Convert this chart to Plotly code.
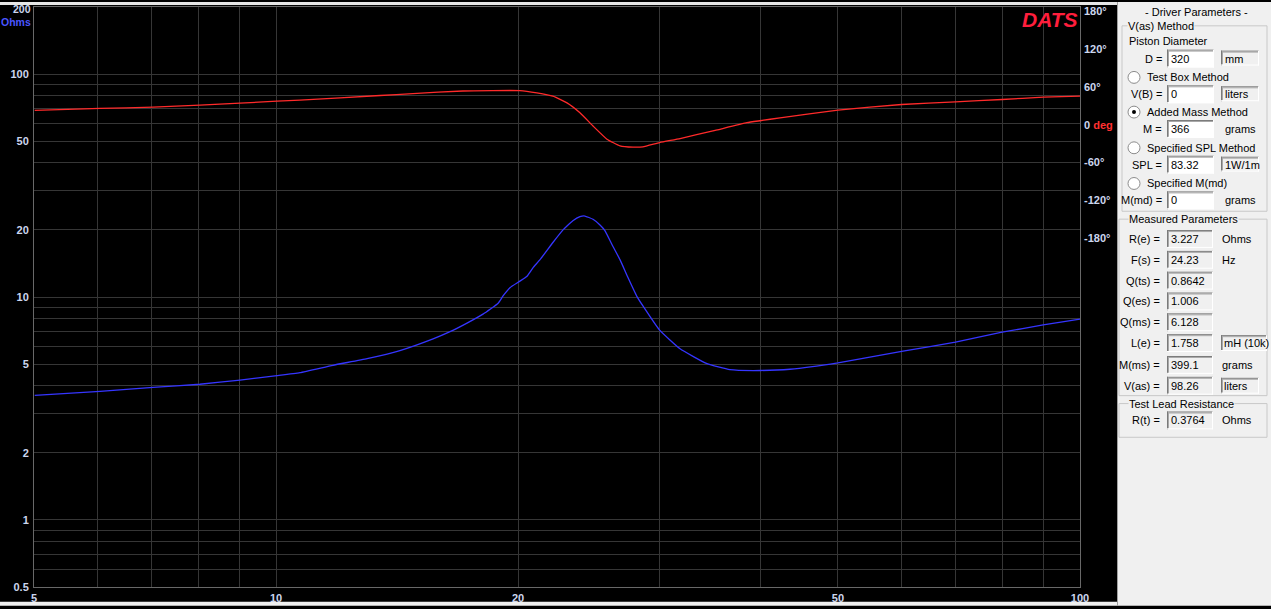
import math
import plotly.graph_objects as go

# ---------------- data ----------------
freq_z = [5.01, 6.04, 7.03, 8.04, 9.02, 10.03, 10.71, 11.77, 12.98, 14.26, 15.68, 16.46,
          17.28, 18.09, 18.89, 19.16, 19.54, 20.11, 20.52, 20.87, 21.30, 22.10, 22.75,
          23.01, 23.40, 23.88, 24.22, 24.79, 25.29, 25.65, 26.25, 26.78, 27.41, 28.12,
          28.60, 30.0, 31.81, 34.36, 36.69, 40.0, 43.58, 50.0, 60.0, 70.0, 80.0, 90.0, 100.0]
impedance = [3.62, 3.77, 3.93, 4.06, 4.24, 4.44, 4.58, 4.94, 5.29, 5.75, 6.49, 6.99,
             7.64, 8.38, 9.38, 10.11, 11.01, 11.78, 12.40, 13.51, 14.71, 17.56, 20.0,
             20.84, 22.0, 22.92, 23.08, 22.32, 21.05, 19.86, 16.85, 14.71, 12.20, 10.04,
             9.12, 7.10, 5.86, 5.02, 4.72, 4.68, 4.74, 5.06, 5.70, 6.27, 6.95, 7.49, 7.96]

freq_p = [5.01, 6.04, 7.03, 8.04, 9.02, 10.03, 10.71, 13.47, 14.80, 17.08, 20.11, 21.11,
          22.10, 23.01, 23.88, 24.79, 25.80, 26.78, 27.80, 28.60, 30.0, 31.81, 34.95,
          38.52, 40.0, 42.35, 50.0, 60.0, 70.0, 80.0, 90.0, 100.0]
phase = [22.8, 25.9, 28.0, 31.1, 34.3, 37.4, 39.0, 46.4, 49.5, 53.6, 54.2, 50.5,
         45.3, 34.7, 19.0, -1.9, -22.8, -33.3, -35.4, -34.9, -28.1, -21.8, -9.7,
         3.3, 6.4, 11.0, 23.3, 32.2, 36.3, 40.1, 43.7, 45.3]

x_grid = [5, 6, 7, 8, 9, 10, 20, 30, 40, 50, 60, 70, 80, 90, 100]
x_labels = ["5", "", "", "", "", "10", "20", "", "", "50", "", "", "", "", "100"]
y_grid = [0.5, 0.6, 0.7, 0.8, 0.9, 1, 2, 3, 4, 5, 6, 7, 8, 9, 10, 20, 30, 40, 50,
          60, 70, 80, 90, 100, 200]
y_labels = ["0.5", "", "", "", "", "1", "2", "", "", "5", "", "", "", "", "10", "20",
            "", "", "50", "", "", "", "", "100", ""]
phase_ticks = [180, 120, 60, 0, -60, -120, -180]
phase_labels = ["180°", "120°", "60°", "0 <span style='color:#ff3030'>deg</span>",
                "-60°", "-120°", "-180°"]

# driver-parameter panel contents
vas_rows = [("D =", "320", "mm", True), ("V(B) =", "0", "liters", True),
            ("M =", "366", "grams", False), ("SPL =", "83.32", "1W/1m", True),
            ("M(md) =", "0", "grams", False)]
method_labels = ["Test Box Method", "Added Mass Method", "Specified SPL Method",
                 "Specified M(md)"]
selected_method = 1
measured_labels = ["R(e) =", "F(s) =", "Q(ts) =", "Q(es) =", "Q(ms) =", "L(e) =",
                   "M(ms) =", "V(as) ="]
measured_values = ["3.227", "24.23", "0.8642", "1.006", "6.128", "1.758", "399.1", "98.26"]
measured_units = ["Ohms", "Hz", "", "", "", "mH (10k)", "grams", "liters"]
measured_unit_box = [False, False, False, False, False, True, False, True]

# ---------------- layout geometry (pixels) ----------------
W, H = 1271, 609
L, R, T, B = 34, 1080, 5, 590

def px(x):
    return (x - L) / (R - L)

def py(y):
    return (B - y) / (B - T)

# phase axis mapping: 180 deg at y=9.3, -180 deg at y=238.3
deg_px = (238.3 - 9.3) / 360.0
zero_y = 9.3 + 180 * deg_px
p_top = (zero_y - T) / deg_px
p_bot = (zero_y - B) / deg_px

AXIS_FONT = "Liberation Sans, Arial, sans-serif"
PANEL_FONT = "Liberation Sans, Arial, sans-serif"
LABEL_COLOR = "#ccd6ee"
GRID = "#363636"

fig = go.Figure()
fig.add_trace(go.Scatter(x=freq_z, y=impedance, mode="lines",
                         line=dict(color="#3535ff", width=1.3, shape="spline", smoothing=0.4),
                         hoverinfo="skip"))
fig.add_trace(go.Scatter(x=freq_p, y=phase, mode="lines", yaxis="y2",
                         line=dict(color="#ff2a2a", width=1.3, shape="spline", smoothing=0.4),
                         hoverinfo="skip"))

shapes = []
annotations = []

def rect(x0, y0, x1, y1, fill=None, line=None, lw=1, layer="above"):
    d = dict(type="rect", xref="paper", yref="paper", x0=px(x0), x1=px(x1),
             y0=py(y1), y1=py(y0), layer=layer)
    d["fillcolor"] = fill if fill else "rgba(0,0,0,0)"
    d["line"] = dict(color=line, width=lw) if line else dict(width=0)
    shapes.append(d)

def seg(x0, y0, x1, y1, color, lw=1):
    shapes.append(dict(type="line", xref="paper", yref="paper", x0=px(x0), x1=px(x1),
                       y0=py(y0), y1=py(y1), line=dict(color=color, width=lw)))

def circle(cx, cy, r, fill, line=None):
    shapes.append(dict(type="circle", xref="paper", yref="paper",
                       x0=px(cx - r), x1=px(cx + r), y0=py(cy + r), y1=py(cy - r),
                       fillcolor=fill,
                       line=dict(color=line, width=1) if line else dict(width=0)))

def text(x, y, s, anchor="left", color="#000000", size=11, family=PANEL_FONT,
         bg=None, weight="normal"):
    a = dict(xref="paper", yref="paper", x=px(x), y=py(y), text=s, showarrow=False,
             xanchor=anchor, yanchor="middle",
             font=dict(family=family, size=size, color=color, weight=weight),
             borderpad=0)
    if bg:
        a["bgcolor"] = bg
    annotations.append(a)

def sunken(x0, y0, x1, y1, fill):
    rect(x0, y0, x1, y1, fill=fill)
    seg(x0, y0 + 0.5, x1, y0 + 0.5, "#7a7a7a", 1)
    seg(x0 + 0.5, y0, x0 + 0.5, y1, "#7a7a7a", 1)
    seg(x0 + 1, y0 + 1.5, x1 - 1, y0 + 1.5, "#a8a8a8", 1)
    seg(x0 + 1.5, y0 + 1, x0 + 1.5, y1 - 1, "#a8a8a8", 1)
    seg(x0, y1 - 0.5, x1, y1 - 0.5, "#ffffff", 1)
    seg(x1 - 0.5, y0, x1 - 0.5, y1, "#ffffff", 1)

# window strips / panel background
rect(0, 0, 1118, 3, fill="#e6e6e6", layer="below")
rect(0, 605, 1118, H, fill="#f0f0f0", layer="below")
rect(1118, 0, W, H, fill="#f0f0f0", layer="below")
seg(1117.5, 0, 1117.5, H, "#a0a0a0", 1)

# left axis top labels
text(32, 7.5, "200", anchor="right", color=LABEL_COLOR, size=10.5, family=AXIS_FONT, weight="bold")
text(32, 20, "Ohms", anchor="right", color="#4a55ff", size=10.5, family=AXIS_FONT, weight="bold")
# logo
text(1079, 17.5, "<i>DATS</i>", anchor="right", color="#ff1e3c", size=21,
     family="Liberation Sans, Arial", weight="bold")

# ---- panel ----
text(1196, 10, "- Driver Parameters -", anchor="center")

# group 1
rect(1122, 24, 1267, 211, line="#c8c8c8")
text(1127, 24, "V(as) Method", bg="#f0f0f0")
text(1128, 39, "Piston Diameter")
row_y = [57, 93, 128, 164, 200]
radio_y = [76, 111, 147, 183]
for i, (lab, val, unit, boxed) in enumerate(vas_rows):
    y = row_y[i]
    text(1163, y, lab, anchor="right")
    sunken(1167, y - 9, 1214, y + 9, "#ffffff")
    text(1170, y, val)
    if boxed:
        sunken(1221, y - 8, 1259, y + 7, "#f0f0f0")
        text(1224, y, unit)
    else:
        text(1224, y, unit)
for i, lab in enumerate(method_labels):
    y = radio_y[i]
    circle(1134, y, 6, "#ffffff", "#8c8c8c")
    if i == selected_method:
        circle(1134, y, 2, "#000000")
    text(1146, y, lab)

# group 2
rect(1119, 219, 1267, 397, line="#c8c8c8")
text(1128, 219, "Measured Parameters", bg="#f0f0f0")
meas_y = [239, 260, 281, 302, 323, 344, 366, 387]
for i, lab in enumerate(measured_labels):
    y = meas_y[i]
    text(1161, y, lab, anchor="right")
    sunken(1167, y - 9, 1213, y + 9, "#f0f0f0")
    text(1170, y, measured_values[i])
    if measured_units[i]:
        if measured_unit_box[i]:
            right = 1267 if measured_units[i].startswith("mH") else 1259
            sunken(1221, y - 8, right, y + 8, "#f0f0f0")
            text(1223, y, measured_units[i])
        else:
            text(1221, y, measured_units[i])

# group 3
rect(1119, 405, 1267, 439, line="#c8c8c8")
text(1128, 405, "Test Lead Resistance", bg="#f0f0f0")
text(1161, 422, "R(t) =", anchor="right")
sunken(1167, 413, 1213, 431, "#f0f0f0")
text(1170, 422, "0.3764")
text(1221, 422, "Ohms")

tickfont = dict(family=AXIS_FONT, size=11, color=LABEL_COLOR, weight="bold")
fig.update_layout(
    width=W, height=H,
    margin=dict(l=L, r=W - R, t=T, b=H - B, pad=0),
    paper_bgcolor="#000000", plot_bgcolor="#000000",
    showlegend=False,
    xaxis=dict(type="log", range=[math.log10(5), 2], tickvals=x_grid, ticktext=x_labels,
               showgrid=True, gridcolor=GRID, gridwidth=1, zeroline=False,
               showline=True, linecolor="#686868", linewidth=1, mirror=True,
               ticks="", tickfont=tickfont, ticklabelstandoff=1, fixedrange=True),
    yaxis=dict(type="log", range=[math.log10(0.5), math.log10(200)], tickvals=y_grid,
               ticktext=y_labels, showgrid=True, gridcolor=GRID, gridwidth=1,
               zeroline=False, showline=True, linecolor="#686868", linewidth=1,
               mirror=True, ticks="", tickfont=tickfont, ticklabelstandoff=2,
               fixedrange=True),
    yaxis2=dict(overlaying="y", side="right", range=[p_bot, p_top], tickvals=phase_ticks,
                ticktext=phase_labels, showgrid=False, zeroline=False, showline=False,
                ticks="", tickfont=tickfont, ticklabelstandoff=3, fixedrange=True),
    shapes=shapes,
    annotations=annotations,
)

fig.write_html("out.html", config={"displayModeBar": False},
               post_script="document.body.style.margin='0';document.body.style.overflow='hidden';")
